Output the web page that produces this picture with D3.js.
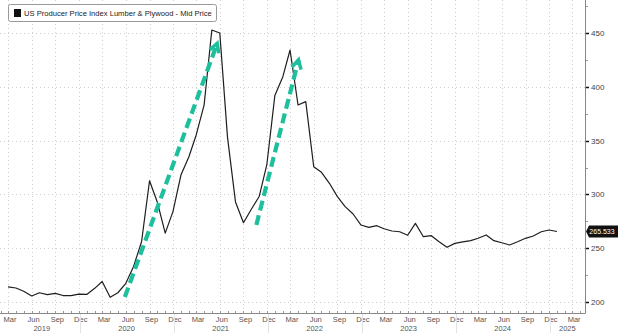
<!DOCTYPE html>
<html>
<head>
<meta charset="utf-8">
<script src="https://cdn.jsdelivr.net/npm/d3@7"></script>
<style>
  body { margin: 0; background: #fff; }
  svg { display: block; font-family: "Liberation Sans", Arial, sans-serif; }
</style>
</head>
<body>
<div id="chart"></div>
<script>
// monthly PPI readings, Mar 2019 .. Jan 2025
var months = d3.timeMonth.range(new Date(2019, 2, 1), new Date(2025, 1, 1));
var ppi = [
  214, 213, 210, 205.6, 208.6, 206.8, 208, 206, 206, 207.4,
  207, 212.7, 219, 204.4, 208.6, 217.4, 233, 256, 312.7, 293, 264, 284,
  318, 335, 355, 383, 452.8, 450, 353, 293, 273.7, 286, 298, 328,
  392, 409.4, 434.2, 383.1, 386.2, 325.7, 320.5, 310.3, 297.9, 288.6, 281.8, 271.6,
  269.4, 270.9, 268.1, 266, 265.3, 262, 273.1, 260.7, 261.6, 256, 250.8, 254.5,
  255.8, 257, 259.2, 262.3, 257, 255.1, 253, 256, 259.2, 261.3, 265.3, 266.9,
  265.533
];
var yTicks = [200, 250, 300, 350, 400, 450];
var years = [2019, 2020, 2021, 2022, 2023, 2024, 2025];
var monthNames = ["Mar", "Jun", "Sep", "Dec"];
var legendText = "US Producer Price Index Lumber & Plywood - Mid Price";
// the two green dashed arrows, [start, end] as [date, value]
var arrows = [
  [[new Date(2020, 4, 28), 204.6], [new Date(2021, 4, 22), 440.4]],
  [[new Date(2021, 9, 21), 271.6], [new Date(2022, 3, 3), 425]]
];

var width = 620, height = 333;
var plotRight = 585, plotBottom = 313;

var svg = d3.select("#chart").append("svg")
  .attr("width", width)
  .attr("height", height);

var x = d3.scaleTime()
  .domain([new Date(2019, 0, 29), new Date(2025, 3, 20)])
  .range([0, plotRight]);
var y = d3.scaleLinear()
  .domain([200, 450])
  .range([302, 33]);

// quarterly tick dates
var qTicks = [];
years.forEach(function(yr) {
  [2, 5, 8, 11].forEach(function(m) {
    var d = new Date(yr, m, 1);
    if (d >= new Date(2019, 2, 1) && d <= new Date(2025, 2, 1)) qTicks.push(d);
  });
});

// grid
var grid = svg.append("g").attr("stroke", "#cfcfcf").attr("stroke-width", 1)
  .attr("stroke-dasharray", "1,3");
grid.selectAll(".vg").data(qTicks).enter().append("line")
  .attr("x1", d => Math.round(x(d)) + 0.5).attr("x2", d => Math.round(x(d)) + 0.5)
  .attr("y1", 0).attr("y2", plotBottom);
grid.selectAll(".hg").data(yTicks).enter().append("line")
  .attr("x1", 0).attr("x2", plotRight)
  .attr("y1", d => Math.round(y(d)) + 0.5).attr("y2", d => Math.round(y(d)) + 0.5);

// price line
var line = d3.line()
  .x((d, i) => x(months[i]))
  .y(d => y(d));
svg.append("path")
  .datum(ppi)
  .attr("fill", "none")
  .attr("stroke", "#1e1e1e")
  .attr("stroke-width", 1.2)
  .attr("stroke-linejoin", "round")
  .attr("d", line);

// green dashed arrows
var green = "#1dbf9d";
arrows.forEach(function(a) {
  var x1 = x(a[0][0]), y1 = y(a[0][1]), x2 = x(a[1][0]), y2 = y(a[1][1]);
  svg.append("line")
    .attr("x1", x1).attr("y1", y1).attr("x2", x2).attr("y2", y2)
    .attr("stroke", green).attr("stroke-width", 4.2)
    .attr("stroke-dasharray", "10,5");
  var ang = Math.atan2(y2 - y1, x2 - x1);
  var len = 10, spread = 0.5;
  var pts = [
    [x2 - len * Math.cos(ang - spread), y2 - len * Math.sin(ang - spread)],
    [x2, y2],
    [x2 - len * Math.cos(ang + spread), y2 - len * Math.sin(ang + spread)]
  ];
  svg.append("path")
    .attr("d", d3.line()(pts))
    .attr("fill", "none").attr("stroke", green).attr("stroke-width", 3.5)
    .attr("stroke-linejoin", "miter");
});

// axes lines
svg.append("line")
  .attr("x1", plotRight + 0.5).attr("x2", plotRight + 0.5)
  .attr("y1", 0).attr("y2", plotBottom + 0.5)
  .attr("stroke", "#888").attr("stroke-width", 1);
svg.append("line")
  .attr("x1", 0).attr("x2", plotRight + 0.5)
  .attr("y1", plotBottom + 0.5).attr("y2", plotBottom + 0.5)
  .attr("stroke", "#888").attr("stroke-width", 1);

// right axis ticks and labels
var yAxis = svg.append("g");
yAxis.selectAll(".minor").data(d3.range(200, 476, 25)).enter().append("line")
  .attr("x1", plotRight + 1).attr("x2", plotRight + 3)
  .attr("y1", d => Math.round(y(d)) + 0.5).attr("y2", d => Math.round(y(d)) + 0.5)
  .attr("stroke", "#999");
yAxis.selectAll(".major").data(yTicks).enter().append("line")
  .attr("x1", plotRight + 1).attr("x2", plotRight + 4)
  .attr("y1", d => Math.round(y(d)) + 0.5).attr("y2", d => Math.round(y(d)) + 0.5)
  .attr("stroke", "#111").attr("stroke-width", 1.5);
yAxis.selectAll("text").data(yTicks).enter().append("text")
  .attr("x", plotRight + 6).attr("y", d => y(d) + 3)
  .attr("font-size", 8).attr("fill", "#444")
  .text(d => d);

// monthly ticks on x axis
svg.append("g").selectAll("line")
  .data(d3.timeMonth.range(new Date(2019, 1, 1), new Date(2025, 4, 1)))
  .enter().append("line")
  .attr("x1", d => Math.round(x(d)) + 0.5).attr("x2", d => Math.round(x(d)) + 0.5)
  .attr("y1", plotBottom - 2).attr("y2", plotBottom)
  .attr("stroke", "#999");

// month labels
svg.append("g").selectAll("text").data(qTicks).enter().append("text")
  .attr("x", d => x(d) + 2).attr("y", 322)
  .attr("text-anchor", "middle")
  .attr("font-size", 7.5).attr("fill", "#555")
  .text(d => monthNames[Math.floor(d.getMonth() / 3)]);

// year separators and labels
var seps = years.slice(0, -1).map(yr => new Date(yr, 11, 4));
svg.append("g").selectAll("line").data(seps).enter().append("line")
  .attr("x1", d => Math.round(x(d)) + 0.5).attr("x2", d => Math.round(x(d)) + 0.5)
  .attr("y1", plotBottom + 1).attr("y2", height)
  .attr("stroke", "#e2e2e2");
svg.append("g").selectAll("text").data(years).enter().append("text")
  .attr("x", function(d, i) {
    var a = i === 0 ? 4 : x(seps[i - 1]);
    var b = i === years.length - 1 ? plotRight : x(seps[i]);
    return (a + b) / 2;
  })
  .attr("y", 331)
  .attr("text-anchor", "middle")
  .attr("font-size", 7.5).attr("fill", "#555")
  .text(d => d);

// legend
var lg = svg.append("g");
lg.append("rect")
  .attr("x", 8.5).attr("y", 4.5).attr("width", 208).attr("height", 17)
  .attr("rx", 2).attr("fill", "#fff").attr("stroke", "#999");
lg.append("rect")
  .attr("x", 14).attr("y", 9).attr("width", 7).attr("height", 8).attr("fill", "#111");
lg.append("text")
  .attr("x", 24).attr("y", 16)
  .attr("font-size", 7.6).attr("fill", "#222")
  .text(legendText);

// last value tag
var last = ppi[ppi.length - 1];
var ly = y(last);
var tag = svg.append("g");
tag.append("path")
  .attr("d", "M" + (plotRight + 1) + "," + ly +
    " L" + (plotRight + 4) + "," + (ly - 6) +
    " L" + 618 + "," + (ly - 6) +
    " L" + 618 + "," + (ly + 6) +
    " L" + (plotRight + 4) + "," + (ly + 6) + " Z")
  .attr("fill", "#111");
tag.append("text")
  .attr("x", 602).attr("y", ly + 2.6)
  .attr("text-anchor", "middle")
  .attr("font-size", 7).attr("fill", "#fff")
  .text(last.toFixed(3));
</script>
</body>
</html>
